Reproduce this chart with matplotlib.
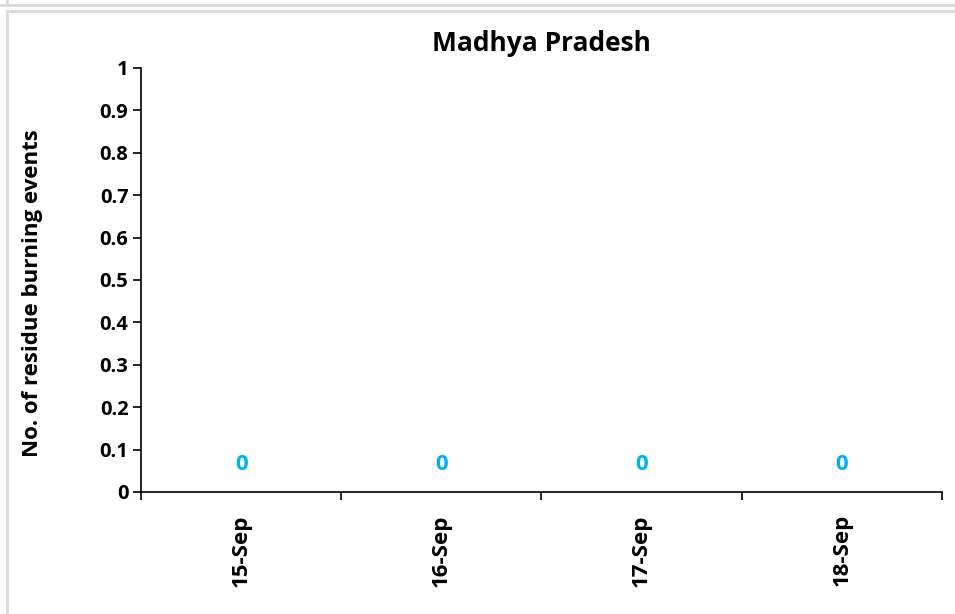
import matplotlib.pyplot as plt
from matplotlib.lines import Line2D
import numpy as np

# chart data
dates = ['15-Sep', '16-Sep', '17-Sep', '18-Sep']
events = [0, 0, 0, 0]
yticks = [0, 0.1, 0.2, 0.3, 0.4, 0.5, 0.6, 0.7, 0.8, 0.9, 1]
ytick_labels = ['0', '0.1', '0.2', '0.3', '0.4', '0.5', '0.6', '0.7', '0.8', '0.9', '1']

BLUE = '#00B0F0'
plt.rcParams['font.family'] = ['Open Sans', 'DejaVu Sans']

fig = plt.figure(figsize=(9.55, 6.14), dpi=100)
ax = fig.add_axes([0.1476, 0.1987, 0.8388, 0.6906])

x = np.arange(len(dates))
ax.bar(x, events, width=0.6, color=BLUE)
for xi, v in zip(x, events):
    ax.annotate(str(v), (xi, v), xytext=(0, 20), textcoords='offset points',
                ha='center', va='center', color=BLUE, fontsize=16, fontweight='bold')

ax.set_xlim(-0.5, len(dates) - 0.5)
ax.set_ylim(0, 1)
ax.set_yticks(yticks)
ax.set_yticklabels(ytick_labels, fontsize=14.5, fontweight='bold')
ax.set_xticks(x)
ax.set_xticklabels(dates, rotation=90, fontsize=16, fontweight='bold')
ax.set_xticks(np.arange(len(dates) + 1) - 0.5, minor=True)
ax.tick_params(axis='x', which='major', length=0, pad=16)
ax.tick_params(axis='x', which='minor', length=6, width=1.2, direction='out')
ax.tick_params(axis='y', length=6, width=1.2, direction='out', pad=3)

for side in ['top', 'right']:
    ax.spines[side].set_visible(False)
for side in ['left', 'bottom']:
    ax.spines[side].set_linewidth(1.2)

ax.set_ylabel('No. of residue burning events', fontsize=16, fontweight='bold')
ax.yaxis.set_label_coords(-0.122, 0.47)
ax.set_title('Madhya Pradesh', fontsize=19, fontweight='bold', pad=12)

# panel frame lines
grey = '#D9D9D9'
fig.add_artist(Line2D([0, 1], [1 - 4.5 / 614] * 2, color=grey, lw=2))
fig.add_artist(Line2D([6.5 / 955] * 2, [1, 1 - 4.5 / 614], color=grey, lw=2))
fig.add_artist(Line2D([6.5 / 955, 1], [1 - 11 / 614] * 2, color=grey, lw=2))
fig.add_artist(Line2D([6.5 / 955] * 2, [0, 1 - 11 / 614], color=grey, lw=2))

fig.savefig('out.png', dpi=100)
